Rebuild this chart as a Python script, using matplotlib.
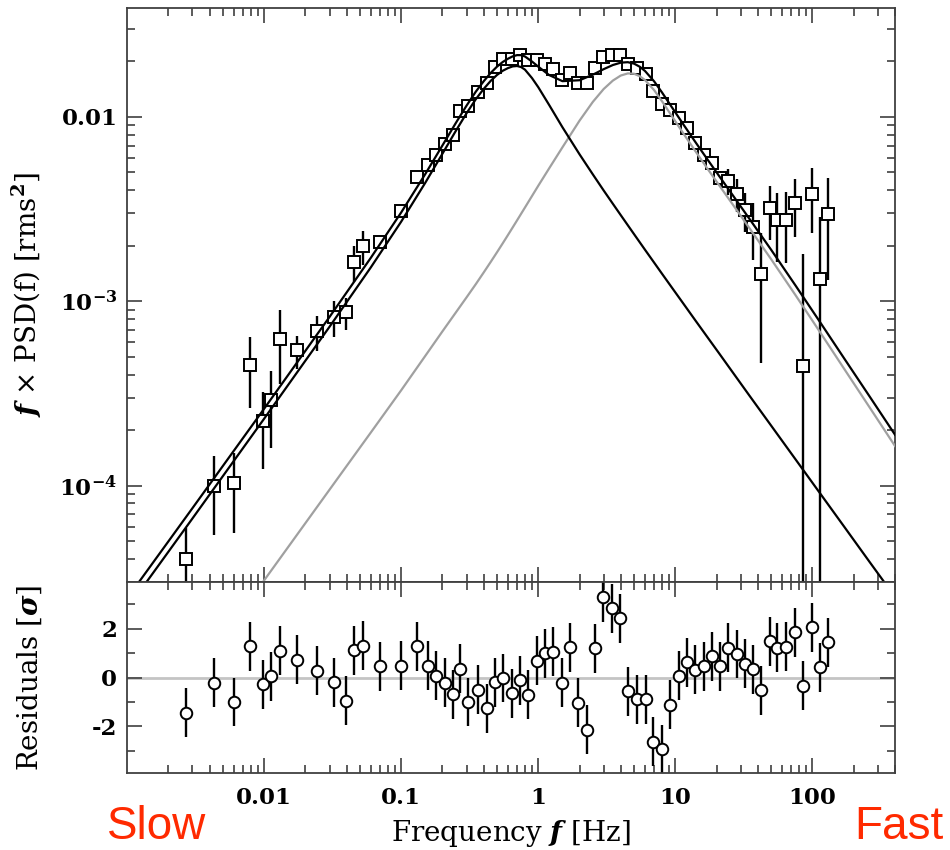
import numpy as np
import matplotlib
matplotlib.use('Agg')
import matplotlib.pyplot as plt
from matplotlib.ticker import LogLocator, FixedLocator, NullFormatter, MultipleLocator

plt.rcParams['font.family'] = ['DejaVu Serif']
plt.rcParams['font.weight'] = 'bold'
plt.rcParams['mathtext.fontset'] = 'custom'
plt.rcParams['mathtext.it'] = 'DejaVu Serif:italic:bold'
plt.rcParams['mathtext.rm'] = 'DejaVu Serif:bold'
plt.rcParams['mathtext.bf'] = 'DejaVu Serif:bold'

# Measured power spectrum (f x PSD) and 1-sigma errors
freq = [0.00270, 0.00434, 0.00604, 0.00794, 0.00982, 0.0112, 0.0130, 0.0174, 0.0243, 0.0321,
        0.0395, 0.0456, 0.0524, 0.0703, 0.0991, 0.130, 0.158, 0.180, 0.207, 0.240,
        0.269, 0.309, 0.366, 0.421, 0.484, 0.556, 0.640, 0.736, 0.845, 0.972,
        1.119, 1.286, 1.480, 1.702, 1.956, 2.283, 2.590, 2.977, 3.424, 3.937,
        4.527, 5.244, 6.125, 6.882, 7.93, 9.18, 10.65, 12.2, 13.95, 16.1,
        18.4, 21.0, 24.3, 28.1, 32.1, 36.7, 42.4, 48.7, 55.3, 64.6,
        74.4, 85.3, 98.5, 112.7, 129.6]
power = [3.98e-5, 9.9e-5, 1.03e-4, 4.53e-4, 2.23e-4, 2.9e-4, 6.24e-4, 5.41e-4, 6.86e-4, 8.2e-4,
         8.7e-4, 1.64e-3, 2.0e-3, 2.09e-3, 3.07e-3, 4.73e-3, 5.47e-3, 6.21e-3, 7.11e-3, 8.03e-3,
         1.074e-2, 1.148e-2, 1.365e-2, 1.527e-2, 1.866e-2, 2.07e-2, 2.07e-2, 2.16e-2, 2.03e-2, 2.03e-2,
         1.945e-2, 1.81e-2, 1.58e-2, 1.73e-2, 1.52e-2, 1.52e-2, 1.84e-2, 2.12e-2, 2.18e-2, 2.18e-2,
         1.93e-2, 1.84e-2, 1.70e-2, 1.39e-2, 1.17e-2, 1.087e-2, 9.84e-3, 8.69e-3, 7.18e-3, 6.2e-3,
         5.64e-3, 4.66e-3, 4.5e-3, 3.81e-3, 3.12e-3, 2.54e-3, 1.41e-3, 3.19e-3, 2.76e-3, 2.76e-3,
         3.42e-3, 4.43e-4, 3.80e-3, 1.32e-3, 2.97e-3]
power_err = [1.9e-5, 4.5e-5, 4.8e-5, 1.9e-4, 1.0e-4, 1.3e-4, 2.7e-4, 1.1e-4, 1.5e-4, 1.8e-4,
             1.7e-4, 3.6e-4, 4.2e-4, 1.2e-4, 2.5e-4, 3.5e-4, 3.5e-4, 3.8e-4, 4.0e-4, 4.5e-4,
             5e-4, 5e-4, 5.5e-4, 6e-4, 6.5e-4, 7e-4, 7e-4, 7e-4, 7e-4, 7e-4,
             6.5e-4, 6e-4, 6e-4, 6e-4, 6e-4, 6.5e-4, 6.5e-4, 7e-4, 7e-4, 7e-4,
             7e-4, 7e-4, 6.5e-4, 6.5e-4, 6.5e-4, 6.5e-4, 6e-4, 5.5e-4, 5.5e-4, 5e-4,
             5e-4, 4.5e-4, 7.5e-4, 7.7e-4, 7.3e-4, 8.6e-4, 9.5e-4, 1.03e-3, 1.12e-3, 1.15e-3,
             1.2e-3, 1.36e-3, 1.46e-3, 1.56e-3, 1.67e-3]
resid = [-1.44, -0.22, -1.00, 1.27, -0.27, 0.05, 1.10, 0.73, 0.28, -0.19,
         -0.95, 1.12, 1.30, 0.45, 0.49, 1.27, 0.49, 0.08, -0.22, -0.69,
         0.35, -1.00, -0.50, -1.25, -0.19, -0.02, -0.64, -0.12, -0.70, 0.68,
         1.00, 1.06, -0.22, 1.23, -1.03, -2.13, 1.19, 3.27, 2.82, 2.41,
         -0.57, -0.89, -0.89, -2.63, -2.94, -1.11, 0.08, 0.62, 0.31, 0.45,
         0.87, 0.46, 1.21, 0.96, 0.56, 0.33, -0.53, 1.48, 1.21, 1.26,
         1.84, -0.33, 2.05, 0.42, 1.44]

# Model curves: low-f Lorentzian, high-f Lorentzian, total
model_f = [0.001, 0.003, 0.01, 0.03, 0.06, 0.1, 0.15, 0.2, 0.25, 0.3,
           0.35, 0.4, 0.45, 0.5, 0.55, 0.6, 0.65, 0.7, 0.75, 0.8,
           0.9, 1.0, 1.2, 1.5, 2.0, 2.5, 3.0, 3.5, 4.0, 4.5,
           5.0, 5.5, 6.0, 7.0, 8.0, 9.5, 11.5, 14, 17, 21,
           26, 35, 50, 75, 110, 170, 260, 400]
lor_low = [2.14e-5, 6.63e-5, 2.305e-4, 7.27e-4, 1.526e-3, 2.704e-3, 4.40e-3, 6.32e-3, 8.39e-3, 1.048e-2,
           1.247e-2, 1.42e-2, 1.57e-2, 1.69e-2, 1.78e-2, 1.84e-2, 1.88e-2, 1.89e-2, 1.865e-2, 1.805e-2,
           1.625e-2, 1.45e-2, 1.162e-2, 8.80e-3, 6.27e-3, 4.88e-3, 3.99e-3, 3.38e-3, 2.93e-3, 2.585e-3,
           2.311e-3, 2.089e-3, 1.905e-3, 1.621e-3, 1.409e-3, 1.178e-3, 9.66e-4, 7.87e-4, 6.44e-4, 5.18e-4,
           4.15e-4, 3.05e-4, 2.114e-4, 1.393e-4, 9.39e-5, 6.0e-5, 3.87e-5, 2.49e-5]
lor_high = [3.0e-6, 9.1e-6, 3.06e-5, 9.5e-5, 1.94e-4, 3.29e-4, 5.06e-4, 6.87e-4, 8.68e-4, 1.051e-3,
            1.238e-3, 1.434e-3, 1.636e-3, 1.845e-3, 2.061e-3, 2.284e-3, 2.513e-3, 2.747e-3, 2.986e-3, 3.228e-3,
            3.725e-3, 4.235e-3, 5.26e-3, 6.84e-3, 9.55e-3, 1.207e-2, 1.418e-2, 1.575e-2, 1.678e-2, 1.723e-2,
            1.715e-2, 1.663e-2, 1.586e-2, 1.398e-2, 1.215e-2, 1.002e-2, 8.09e-3, 6.52e-3, 5.29e-3, 4.23e-3,
            3.38e-3, 2.47e-3, 1.69e-3, 1.083e-3, 7.05e-4, 4.31e-4, 2.67e-4, 1.64e-4]
model_total = [2.44e-5, 7.54e-5, 2.611e-4, 8.22e-4, 1.72e-3, 3.033e-3, 4.906e-3, 7.007e-3, 9.258e-3, 1.153e-2,
               1.371e-2, 1.563e-2, 1.734e-2, 1.875e-2, 1.986e-2, 2.068e-2, 2.131e-2, 2.165e-2, 2.164e-2, 2.128e-2,
               1.998e-2, 1.874e-2, 1.688e-2, 1.564e-2, 1.582e-2, 1.695e-2, 1.817e-2, 1.913e-2, 1.971e-2, 1.982e-2,
               1.946e-2, 1.872e-2, 1.777e-2, 1.560e-2, 1.356e-2, 1.120e-2, 9.056e-3, 7.307e-3, 5.934e-3, 4.748e-3,
               3.795e-3, 2.775e-3, 1.901e-3, 1.222e-3, 7.99e-4, 4.91e-4, 3.06e-4, 1.889e-4]

freq = np.array(freq)
power = np.array(power)
power_err = np.array(power_err)
lower = np.minimum(power_err, power - 1e-7)

fig = plt.figure(figsize=(9.5, 8.5), dpi=100)
ax1 = fig.add_axes([127/950, 1 - 582/850, 768/950, 574/850])
ax2 = fig.add_axes([127/950, 1 - 773/850, 768/950, 191/850], sharex=ax1)

frame = '0.25'

# top panel: spectrum and model
ax1.plot(model_f, lor_high, color='#a0a0a0', lw=1.6, zorder=4)
ax1.plot(model_f, lor_low, color='k', lw=1.6, zorder=4)
ax1.plot(model_f, model_total, color='k', lw=1.6, zorder=4)
ax1.errorbar(freq, power, yerr=[lower, power_err], fmt='none', ecolor='k',
             elinewidth=1.7, capsize=0, zorder=2)
ax1.plot(freq, power, 's', ms=8.8, mfc='white', mec='k', mew=1.4, zorder=3)
ax1.set_xscale('log')
ax1.set_yscale('log')
ax1.set_xlim(1e-3, 400)
ax1.set_ylim(3e-5, 0.039)
ax1.yaxis.set_major_locator(FixedLocator([1e-4, 1e-3, 1e-2]))
ax1.set_yticklabels(['10$^{-4}$', '10$^{-3}$', '0.01'])
ax1.yaxis.set_minor_locator(LogLocator(base=10, subs=np.arange(2, 10)))
ax1.yaxis.set_minor_formatter(NullFormatter())
ax1.set_ylabel(r'$f$ × PSD(f) [rms$^2$]', fontsize=20)
ax1.yaxis.set_label_coords(-0.108, 0.5)
plt.setp(ax1.get_xticklabels(), visible=False)

# residual panel
ax2.axhline(0, color='#c4c4c4', lw=2, zorder=1)
ax2.errorbar(freq, resid, yerr=1.0, fmt='none', ecolor='k', elinewidth=1.7, capsize=0, zorder=2)
ax2.plot(freq, resid, 'o', ms=8.3, mfc='white', mec='k', mew=1.4, zorder=3)
ax2.set_ylim(-3.9, 3.9)
ax2.yaxis.set_major_locator(FixedLocator([-2, 0, 2]))
ax2.set_yticklabels(['-2', '0', '2'])
ax2.yaxis.set_minor_locator(MultipleLocator(1))
ax2.xaxis.set_major_locator(FixedLocator([0.01, 0.1, 1, 10, 100]))
ax2.set_xticklabels(['0.01', '0.1', '1', '10', '100'])
ax2.xaxis.set_minor_locator(LogLocator(base=10, subs=np.arange(2, 10), numticks=20))
ax2.xaxis.set_minor_formatter(NullFormatter())
ax2.set_ylabel(r'Residuals [$\sigma$]', fontsize=20)
ax2.yaxis.set_label_coords(-0.108, 0.5)
ax2.set_xlabel(r'Frequency $f$ [Hz]', fontsize=20)
ax2.xaxis.set_label_coords(0.5, -0.235)

for ax in (ax1, ax2):
    for sp in ax.spines.values():
        sp.set_color(frame)
        sp.set_linewidth(1.3)
    ax.tick_params(which='both', direction='in', top=True, right=True,
                   color=frame, width=1.2, labelsize=16.5)
    ax.tick_params(which='major', length=11)
    ax.tick_params(which='minor', length=6)
ax1.tick_params(axis='y', pad=7)
ax2.tick_params(axis='y', pad=7)
ax2.tick_params(axis='x', pad=10)

fig.text(107/950, 1/850, 'Slow', color='#ff2a00', fontsize=33,
         family='Liberation Sans', weight='normal', ha='left', va='bottom')
fig.text(943/950, 1/850, 'Fast', color='#ff2a00', fontsize=33,
         family='Liberation Sans', weight='normal', ha='right', va='bottom')

fig.savefig('out.png', dpi=100)
